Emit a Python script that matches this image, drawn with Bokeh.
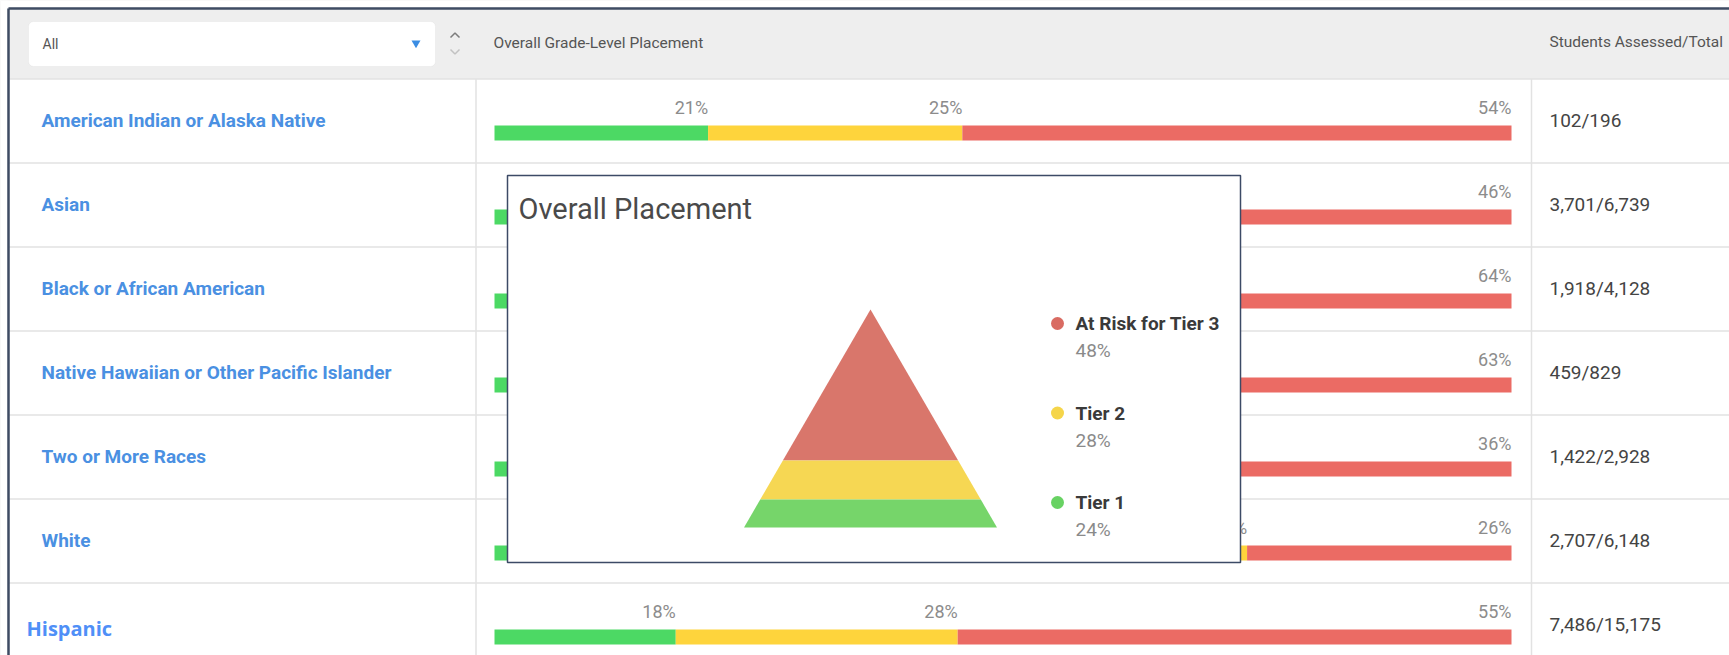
from bokeh.plotting import figure
from bokeh.models import Range1d, BoxAnnotation, ColumnDataSource
from bokeh.core.properties import value
from bokeh.embed import file_html
from bokeh.resources import INLINE
import math

# ---------------- data ----------------
groups = ["American Indian or Alaska Native", "Asian", "Black or African American",
          "Native Hawaiian or Other Pacific Islander", "Two or More Races", "White", "Hispanic"]
tier1 = [21, 28, 14, 15, 30, 42, 18]
tier2 = [25, 26, 22, 22, 34, 32, 28]
tier3 = [54, 46, 64, 63, 36, 26, 55]
assessed = [102, 3701, 1918, 459, 1422, 2707, 7486]
totals = [196, 6739, 4128, 829, 2928, 6148, 15175]

header_filter = "All"
header_placement = "Overall Grade-Level Placement"
header_students = "Students Assessed/Total"

popup_title = "Overall Placement"
overall_tiers = ["At Risk for Tier 3", "Tier 2", "Tier 1"]
overall_pct = [48, 28, 24]

# ---------------- layout ----------------
PW, PH_ = 1729, 655          # canvas size
X_MIN, X_MAX = -8, 1721      # local pixel frame
Y_MIN, Y_MAX = -8, 647
BAR_L, BAR_R = 486, 1503


def ux(px):
    return (px - BAR_L) * 100.0 / (BAR_R - BAR_L)


HEADER_B = 70.5
ROW_H = 84.0
n = len(groups)
row_top = [HEADER_B + ROW_H * i for i in range(n)]

GREEN, YELLOW, RED = "#4cd964", "#fed43c", "#eb6b64"
FONT = value("Roboto")

p = figure(width=PW, height=PH_, x_range=Range1d(ux(X_MIN), ux(X_MAX)),
           y_range=Range1d(Y_MAX, Y_MIN),
           output_backend="svg", toolbar_location=None,
           x_axis_location=None, y_axis_location=None, min_border=0)
p.grid.visible = False
p.outline_line_color = None
p.background_fill_color = "#eeeeee"
p.border_fill_color = "white"

# dropdown box (rounded)
p.add_layout(BoxAnnotation(left=ux(20), right=ux(427), top=13, bottom=58,
                           fill_color="white", fill_alpha=1, line_color="#d9d9d9",
                           line_width=1, border_radius=5, level="underlay"))

# page margin strips and table body
p.quad(left=[ux(X_MIN), ux(X_MIN)], right=[ux(-1), ux(X_MAX)], top=[Y_MIN, Y_MIN],
       bottom=[Y_MAX, -1], fill_color="white", line_color=None)
p.quad(left=[ux(0)], right=[ux(X_MAX)], top=[HEADER_B], bottom=[Y_MAX],
       fill_color="white", line_color=None)

# row lines
p.segment(x0=[ux(0)] * n, x1=[ux(X_MAX)] * n, y0=row_top, y1=row_top,
          line_color="#e2e2e2", line_width=1.5)
# column dividers
p.segment(x0=[ux(467.5), ux(1523)], x1=[ux(467.5), ux(1523)],
          y0=[HEADER_B] * 2, y1=[Y_MAX] * 2, line_color="#e2e2e2", line_width=1.5)

# stacked bars
bar_y = [t + 54 for t in row_top]
lab_y = [t + 28.5 for t in row_top]
sums = [a + b + c for a, b, c in zip(tier1, tier2, tier3)]
e1 = [a / s * 100 for a, s in zip(tier1, sums)]
e2 = [(a + b) / s * 100 for a, b, s in zip(tier1, tier2, sums)]
e3 = [100.0] * n
starts = [[0.0] * n, e1, e2]
ends = [e1, e2, e3]
vals = [tier1, tier2, tier3]
for st, en, v, col in zip(starts, ends, vals, [GREEN, YELLOW, RED]):
    src = ColumnDataSource(dict(y=bar_y, left=st, right=en, ly=lab_y,
                                txt=[f"{x}%" for x in v]))
    p.hbar(y="y", left="left", right="right", height=15, source=src,
           fill_color=col, line_color=None)
    p.text(x="right", y="ly", text="txt", source=src, text_align="right",
           text_baseline="middle", text_font=FONT, text_font_size="18px",
           text_color="#8c8c8c")

# row labels
name_y = [t + 41.5 for t in row_top]
p.text(x=[ux(33)] * (n - 1), y=name_y[:-1], text=groups[:-1], text_font=FONT,
       text_font_size="19px", text_font_style="bold", text_color="#4a90e2",
       text_baseline="middle")
p.text(x=[ux(18)], y=[row_top[-1] + 45.5], text=[groups[-1]], text_font=value("Open Sans"),
       text_font_size="20px", text_font_style="bold", text_color="#4f8ff7",
       text_baseline="middle")

# counts
p.text(x=[ux(1541)] * n, y=name_y, text=[f"{a:,}/{t:,}" for a, t in zip(assessed, totals)],
       text_font=FONT, text_font_size="19px", text_color="#444444", text_baseline="middle")

# header texts
p.text(x=[ux(34)], y=[35], text=[header_filter], text_font=FONT, text_font_size="14px",
       text_color="#555555", text_baseline="middle")
p.text(x=[ux(485), ux(1541)], y=[34, 33], text=[header_placement, header_students],
       text_font=FONT, text_font_size="15.5px", text_color="#555555", text_baseline="middle")
p.scatter(x=[ux(407.5)], y=[34.5], marker="inverted_triangle", size=9,
          fill_color="#3b8de3", line_color=None)
p.multi_line(xs=[[ux(442), ux(446.5), ux(451)], [ux(442), ux(446.5), ux(451)]],
             ys=[[29, 24.5, 29], [41, 45.5, 41]], line_color=["#7c7c7c", "#c2c2c2"],
             line_width=1.5)

# popup
p.quad(left=[ux(499)], right=[ux(1232)], top=[167], bottom=[554],
       fill_color="white", line_color="#3c4a66", line_width=1.5)
p.text(x=[ux(510)], y=[200], text=[popup_title], text_font=FONT, text_font_size="29px",
       text_color="#4a4a4a", text_baseline="middle")

# pyramid (area proportional)
APEX_X, APEX_Y, BASE_Y, HALF_B = 862.0, 301.0, 519.0, 126.5
PH = BASE_Y - APEX_Y
cum = [0.0]
for v in overall_pct:
    cum.append(cum[-1] + v)
tot = cum[-1]
depth = [PH * math.sqrt(c / tot) for c in cum]
xs, ys = [], []
for k in range(len(overall_pct)):
    d0, d1 = depth[k], depth[k + 1]
    w0, w1 = HALF_B * d0 / PH, HALF_B * d1 / PH
    xs.append([ux(APEX_X - w0), ux(APEX_X + w0), ux(APEX_X + w1), ux(APEX_X - w1)])
    ys.append([APEX_Y + d0, APEX_Y + d0, APEX_Y + d1, APEX_Y + d1])
p.patches(xs=xs, ys=ys, fill_color=["#d9766b", "#f6d753", "#76d56a"], line_color=None)

# legend
leg_y = [315 + 89.5 * i for i in range(len(overall_tiers))]
p.scatter(x=[ux(1049)] * 3, y=leg_y, size=13, marker="circle",
          fill_color=["#d96b62", "#f5d54a", "#68d263"], line_color=None)
p.text(x=[ux(1067)] * 3, y=leg_y, text=overall_tiers, text_font=FONT, text_font_size="19px",
       text_font_style="bold", text_color="#3a3a3a", text_baseline="middle")
p.text(x=[ux(1067)] * 3, y=[y + 27 for y in leg_y], text=[f"{v}%" for v in overall_pct],
       text_font=FONT, text_font_size="19px", text_color="#8a8a8a", text_baseline="middle")

# outer border (left and top)
p.segment(x0=[ux(0), ux(0)], x1=[ux(0), ux(X_MAX)], y0=[0, 0], y1=[Y_MAX, 0],
          line_color="#3e4b63", line_width=2.5)

open("out.html", "w").write(file_html(p, INLINE))
